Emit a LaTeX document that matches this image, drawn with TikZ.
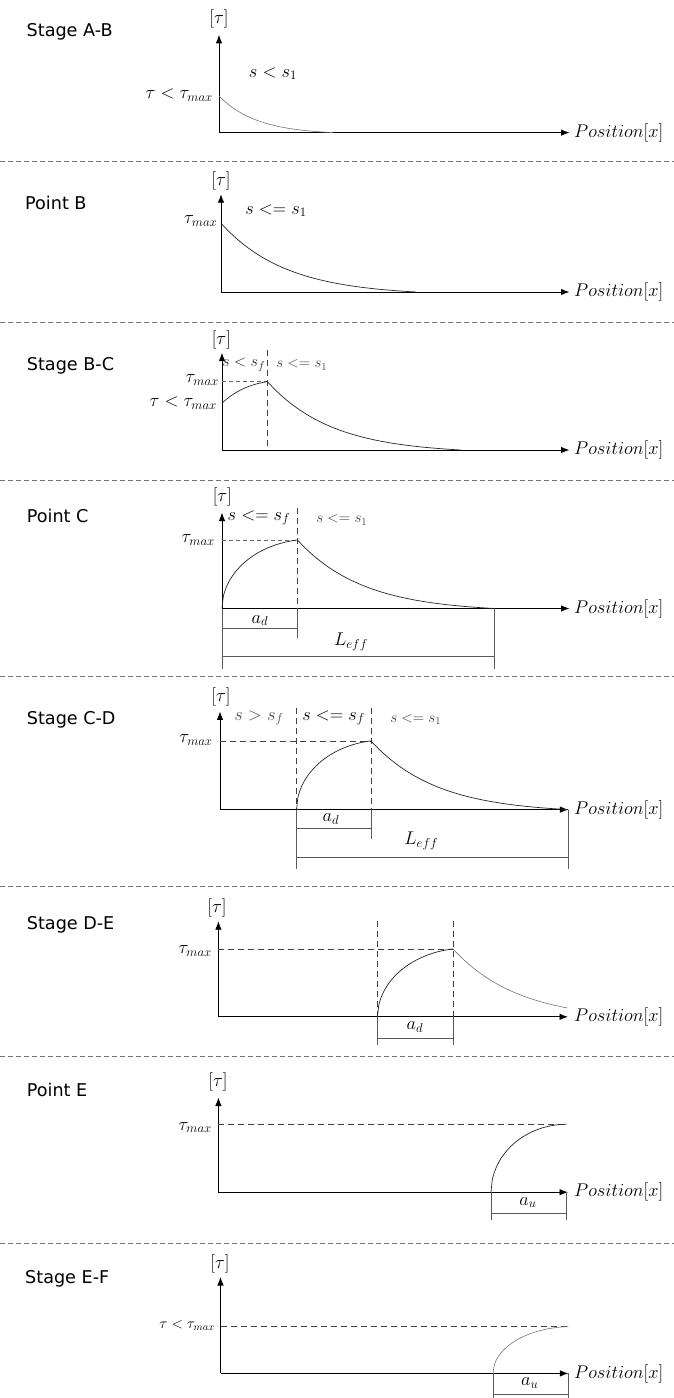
\RequirePackage{fix-cm}
\documentclass[tikz,border=0pt]{standalone}
\usepackage{fontspec}
\newfontfamily\stagefont{DejaVu Sans}
\usetikzlibrary{arrows.meta}
% decay curve: [style]{x0}{y0}{x1}{yaxis}{tmax}
\newcommand{\expdecay}[6][curve]{%
  \draw[#1] plot[domain=0:#6, samples=60, variable=\t, smooth]
    ({#2+\t*(#4-#2)}, {#5-(#5-#3)*(exp(-3*\t)-exp(-3))/(1-exp(-3))});}
% rising curve (elliptic arc): [style]{X0}{yaxis}{L}{H}{s}{t0}
\newcommand{\ellrise}[7][curve]{%
  \draw[#1] plot[domain=#7:1, samples=60, variable=\t, smooth]
    ({#2+\t*#4}, {#3-#5*sqrt(1-(1-\t*#6)*(1-\t*#6))/sqrt(1-(1-#6)*(1-#6))});}
\begin{document}
\begin{tikzpicture}[x=1pt,y=-1pt,
  axis/.style={line width=0.9pt, -{Latex[length=8.5pt,width=6.5pt]}},
  curve/.style={line width=0.7pt, black!85},
  lightcurve/.style={line width=0.6pt, black!55},
  guide/.style={line width=0.7pt, black!75, dash pattern=on 6pt off 4pt},
  fineguide/.style={line width=0.6pt, black!60, dash pattern=on 4pt off 3pt},
  sep/.style={line width=0.8pt, black!55, dash pattern=on 4.5pt off 3.5pt},
  dim/.style={line width=0.9pt, black!65},
  stage/.style={anchor=base west, inner sep=0pt, font=\stagefont\fontsize{17.6}{21}\selectfont},
  lab/.style={inner sep=0pt, font=\fontsize{18.4}{22}\selectfont},
  small/.style={inner sep=0pt, font=\fontsize{15}{18}\selectfont, text=black!75},
]
\useasboundingbox (0,0) rectangle (674,1398);

% ---------- Panel 1: Stage A-B ----------
\node[stage] (st1) at (26.5,36.8) {Stage A-B};
\coordinate (o1) at (219,132.6);
\coordinate (t1) at (219,34.8);
\coordinate (e1) at (569.5,132.6);
\draw[axis] (o1) -- (t1);
\draw[axis] (o1) -- (e1);
\node[lab] (tau1) at (219,18.8) {$[\tau]$};
\node[lab,anchor=west] (pos1) at (574,132.6) {$Position[x]$};
\node[lab,anchor=east] (lt1) at (213,95.5) {$\tau<\tau_{max}$};
\node[lab] (s1) at (273,73.7) {$s<s_1$};
\expdecay[lightcurve]{219}{96}{333}{132.6}{1}
\coordinate (sa1) at (0,161.6); \coordinate (sb1) at (674,161.6);
\draw[sep] (sa1) -- (sb1);

% ---------- Panel 2: Point B ----------
\node[stage] (st2) at (25,209.4) {Point B};
\coordinate (o2) at (221,292);
\coordinate (t2) at (221,194.2);
\coordinate (e2) at (569.5,292);
\draw[axis] (o2) -- (t2);
\draw[axis] (o2) -- (e2);
\node[lab] (tau2) at (221,180.8) {$[\tau]$};
\node[lab,anchor=west] (pos2) at (574,292) {$Position[x]$};
\node[lab,anchor=east] (tm2) at (217.5,221) {$\tau_{max}$};
\node[lab] (s2) at (276,210.7) {$s<=s_1$};
\expdecay{221}{223.2}{416}{292}{1}
\coordinate (sa2) at (0,322.3); \coordinate (sb2) at (674,322.3);
\draw[sep] (sa2) -- (sb2);

% ---------- Panel 3: Stage B-C ----------
\node[stage] (st3) at (26.7,370.2) {Stage B-C};
\coordinate (o3) at (222,450);
\coordinate (t3) at (222,352.7);
\coordinate (e3) at (569.5,450);
\draw[axis] (o3) -- (t3);
\draw[axis] (o3) -- (e3);
\node[lab] (tau3) at (221.4,340) {$[\tau]$};
\node[lab,anchor=west] (pos3) at (574,450) {$Position[x]$};
\coordinate (va3) at (267.5,350.4); \coordinate (vb3) at (267.5,450);
\draw[guide] (va3) -- (vb3);
\node[small,font=\fontsize{16}{19}\selectfont,text=black!85] (ssf3) at (243.8,365) {$s<s_f$};
\node[small] (ss13) at (301.8,365) {$s<=s_1$};
\node[lab,anchor=east] (tm3) at (219,380.4) {$\tau_{max}$};
\coordinate (ha3) at (222,381.7); \coordinate (hb3) at (267.5,381.7);
\draw[fineguide] (ha3) -- (hb3);
\node[lab,anchor=east] (lt3) at (217,403) {$\tau<\tau_{max}$};
\ellrise{201.5}{450}{66}{68.3}{0.85}{0.31}
\expdecay{267.5}{381.7}{461}{450}{1}
\coordinate (sa3) at (0,480.8); \coordinate (sb3) at (674,480.8);
\draw[sep] (sa3) -- (sb3);

% ---------- Panel 4: Point C ----------
\node[stage] (st4) at (26.7,522) {Point C};
\coordinate (o4) at (222,608.5);
\coordinate (t4) at (222,512.5);
\coordinate (e4) at (569.5,608.5);
\draw[axis] (o4) -- (t4);
\draw[axis] (o4) -- (e4);
\node[lab] (tau4) at (222.3,496.4) {$[\tau]$};
\node[lab,anchor=west] (pos4) at (574,608.5) {$Position[x]$};
\coordinate (va4) at (297.5,508); \coordinate (vb4) at (297.5,608.5); \coordinate (vc4) at (297.5,638.4);
\draw[guide] (va4) -- (vb4);
\draw[dim] (vb4) -- (vc4);
\node[lab] (ssf4) at (259,517.9) {$s<=s_f$};
\node[small] (ss14) at (341.8,520) {$s<=s_1$};
\node[lab,anchor=east] (tm4) at (215,540) {$\tau_{max}$};
\coordinate (ha4) at (222,540); \coordinate (hb4) at (297.5,540);
\draw[fineguide] (ha4) -- (hb4);
\ellrise{222}{608.5}{75.5}{68.5}{0.85}{0}
\expdecay{297.5}{540}{494.5}{608.5}{1}
\node[lab] (ad4) at (260,620.5) {$a_d$};
\coordinate (da4) at (222,628.6); \coordinate (db4) at (297.5,628.6);
\draw[dim] (da4) -- (db4);
\node[lab] (le4) at (351,642) {$L_{eff}$};
\coordinate (la4) at (222,656); \coordinate (lb4) at (494.5,656);
\draw[dim] (la4) -- (lb4);
\coordinate (sl4) at (222,668.8); \coordinate (rt4) at (494.5,608.5); \coordinate (rb4) at (494.5,668.8);
\draw[dim] (o4) -- (sl4);
\draw[dim] (rt4) -- (rb4);
\coordinate (sa4) at (0,676.3); \coordinate (sb4) at (674,676.3);
\draw[sep] (sa4) -- (sb4);

% ---------- Panel 5: Stage C-D ----------
\node[stage] (st5) at (26.7,724.4) {Stage C-D};
\coordinate (o5) at (220,809.6);
\coordinate (t5) at (220,711.4);
\coordinate (e5) at (568.4,809.6);
\draw[axis] (o5) -- (t5);
\draw[axis] (o5) -- (e5);
\node[lab] (tau5) at (221,696.5) {$[\tau]$};
\node[lab,anchor=west] (pos5) at (574,809.6) {$Position[x]$};
\coordinate (va5) at (296.6,707.8); \coordinate (vb5) at (296.6,809.6); \coordinate (vc5) at (296.6,868.5);
\coordinate (wa5) at (371,707.8); \coordinate (wb5) at (371,809.6); \coordinate (wc5) at (371,838.6);
\draw[guide] (va5) -- (vb5);
\draw[guide] (wa5) -- (wb5);
\draw[dim] (vb5) -- (vc5);
\draw[dim] (wb5) -- (wc5);
\node[lab,text=black!70] (sgf5) at (259,718) {$s>s_f$};
\node[lab] (ssf5) at (333.6,718) {$s<=s_f$};
\node[small] (ss15) at (415.7,719.4) {$s<=s_1$};
\node[lab,anchor=east] (tm5) at (212.8,740.4) {$\tau_{max}$};
\coordinate (ha5) at (220,740.9); \coordinate (hb5) at (371,740.9);
\draw[guide] (ha5) -- (hb5);
\ellrise{296.6}{809.6}{74.4}{68.7}{0.85}{0}
\expdecay{371}{740.9}{568.4}{809.6}{1}
\node[lab] (ad5) at (331,819.4) {$a_d$};
\coordinate (da5) at (296.6,828.8); \coordinate (db5) at (371,828.8);
\draw[dim] (da5) -- (db5);
\node[lab] (le5) at (421.3,840.9) {$L_{eff}$};
\coordinate (la5) at (296.6,857.8); \coordinate (lb5) at (568.4,857.8);
\draw[dim] (la5) -- (lb5);
\coordinate (rb5) at (568.4,868.5);
\draw[dim] (e5) -- (rb5);
\coordinate (sa5) at (0,886.4); \coordinate (sb5) at (674,886.4);
\draw[sep] (sa5) -- (sb5);

% ---------- Panel 6: Stage D-E ----------
\node[stage] (st6) at (26.7,929.8) {Stage D-E};
\coordinate (o6) at (218.4,1016.8);
\coordinate (t6) at (218.4,921.2);
\coordinate (e6) at (568,1016.8);
\draw[axis] (o6) -- (t6);
\draw[axis] (o6) -- (e6);
\node[lab] (tau6) at (217,907.8) {$[\tau]$};
\node[lab,anchor=west] (pos6) at (574,1016.8) {$Position[x]$};
\coordinate (va6) at (377.5,921.2); \coordinate (vb6) at (377.5,1016.8); \coordinate (vc6) at (377.5,1045.3);
\coordinate (wa6) at (453,921.2); \coordinate (wb6) at (453,1016.8); \coordinate (wc6) at (453,1045.3);
\draw[guide] (va6) -- (vb6);
\draw[guide] (wa6) -- (wb6);
\draw[dim] (vb6) -- (vc6);
\draw[dim] (wb6) -- (wc6);
\node[lab,anchor=east] (tm6) at (212,950.7) {$\tau_{max}$};
\coordinate (ha6) at (218.4,948.9); \coordinate (hb6) at (453,948.9);
\draw[guide] (ha6) -- (hb6);
\ellrise{377.5}{1016.8}{75.5}{67.9}{0.85}{0}
\expdecay[lightcurve]{453}{948.9}{649}{1016.8}{0.584}
\node[lab] (ad6) at (415,1027) {$a_d$};
\coordinate (da6) at (377.5,1038.6); \coordinate (db6) at (453,1038.6);
\draw[dim] (da6) -- (db6);
\coordinate (sa6) at (0,1056.5); \coordinate (sb6) at (674,1056.5);
\draw[sep] (sa6) -- (sb6);

% ---------- Panel 7: Point E ----------
\node[stage] (st7) at (26.7,1096.4) {Point E};
\coordinate (o7) at (218.4,1192.2);
\coordinate (t7) at (218.4,1097.5);
\coordinate (e7) at (568,1192.2);
\draw[axis] (o7) -- (t7);
\draw[axis] (o7) -- (e7);
\node[lab] (tau7) at (218,1081.9) {$[\tau]$};
\node[lab,anchor=west] (pos7) at (574,1192.2) {$Position[x]$};
\node[lab,anchor=east] (tm7) at (212,1127.5) {$\tau_{max}$};
\coordinate (ha7) at (218.4,1124.3); \coordinate (hb7) at (566.6,1124.3);
\draw[guide] (ha7) -- (hb7);
\ellrise{491}{1192.2}{75.6}{67.9}{1}{0}
\node[lab] (au7) at (528,1202.5) {$a_u$};
\coordinate (da7) at (491,1213.6); \coordinate (db7) at (566.6,1213.6);
\draw[dim] (da7) -- (db7);
\coordinate (ua7) at (491,1192.2); \coordinate (ub7) at (491,1220.3);
\coordinate (uc7) at (566.6,1192.2); \coordinate (ud7) at (566.6,1220.3);
\draw[dim] (ua7) -- (ub7);
\draw[dim] (uc7) -- (ud7);
\coordinate (sa7) at (0,1243.5); \coordinate (sb7) at (674,1243.5);
\draw[sep] (sa7) -- (sb7);

% ---------- Panel 8: Stage E-F ----------
\node[stage] (st8) at (25,1283.9) {Stage E-F};
\coordinate (o8) at (220.5,1373.4);
\coordinate (t8) at (220.5,1277);
\coordinate (e8) at (568.4,1373.4);
\draw[axis] (o8) -- (t8);
\draw[axis] (o8) -- (e8);
\node[lab] (tau8) at (220,1264) {$[\tau]$};
\node[lab,anchor=west] (pos8) at (574,1373.4) {$Position[x]$};
\node[small,text=black,anchor=east] (lt8) at (215,1325.2) {$\tau<\tau_{max}$};
\coordinate (ha8) at (220.5,1326.6); \coordinate (hb8) at (568.4,1326.6);
\draw[guide] (ha8) -- (hb8);
\ellrise[lightcurve]{493}{1373.4}{75.4}{46.8}{0.95}{0}
\node[lab] (au8) at (529.7,1383.3) {$a_u$};
\coordinate (da8) at (493,1394); \coordinate (db8) at (568.4,1394);
\draw[dim] (da8) -- (db8);
\coordinate (ua8) at (493,1373.4); \coordinate (ub8) at (493,1398);
\coordinate (uc8) at (568.4,1373.4); \coordinate (ud8) at (568.4,1398);
\draw[dim] (ua8) -- (ub8);
\draw[dim] (uc8) -- (ud8);
\end{tikzpicture}
\end{document}
